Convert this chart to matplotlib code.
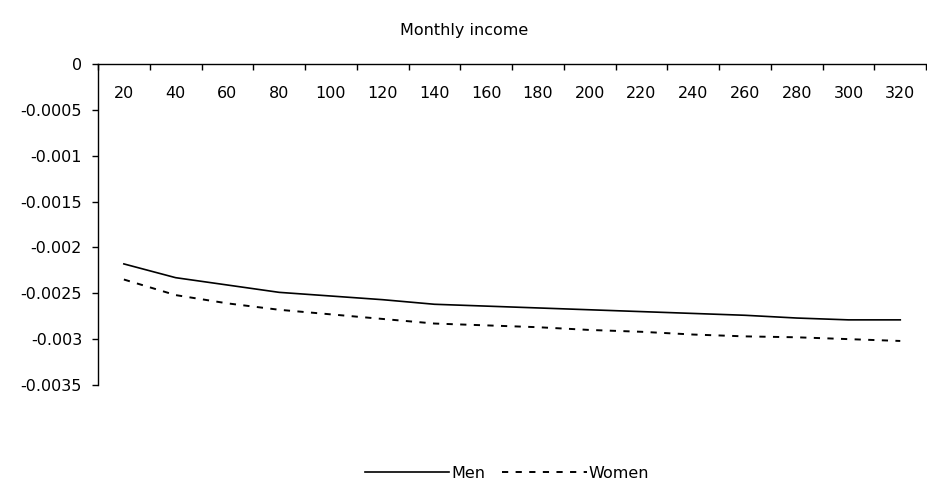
import matplotlib
matplotlib.use("Agg")
import matplotlib.pyplot as plt
import numpy as np

plt.rcParams['font.family'] = ['DejaVu Sans']

categories = ["20", "40", "60", "80", "100", "120", "140", "160", "180", "200",
              "220", "240", "260", "280", "300", "320"]
men = [-0.00218, -0.00233, -0.00241, -0.00249, -0.00253, -0.00257, -0.00262, -0.00264,
       -0.00266, -0.00268, -0.00270, -0.00272, -0.00274, -0.00277, -0.00279, -0.00279]
women = [-0.00235, -0.00252, -0.00261, -0.00268, -0.00273, -0.00278, -0.00283, -0.00285,
         -0.00287, -0.00290, -0.00292, -0.00295, -0.00297, -0.00298, -0.00300, -0.00302]
yticks = [0, -0.0005, -0.001, -0.0015, -0.002, -0.0025, -0.003, -0.0035]
ytick_labels = ["0", "-0.0005", "-0.001", "-0.0015", "-0.002", "-0.0025", "-0.003", "-0.0035"]

FS = 11.5

fig = plt.figure(figsize=(9.28, 4.92), dpi=100)
ax = fig.add_axes([0.1056, 0.2175, 0.8924, 0.6525])

x = np.arange(len(categories))
l1, = ax.plot(x, men, color='black', lw=1.2, label='Men')
l2, = ax.plot(x, women, color='black', lw=1.4, dashes=(3.2, 3.8), label='Women')

ax.set_xlim(-0.5, len(categories) - 0.5)
ax.set_ylim(-0.0035, 0)

for s in ['right', 'bottom']:
    ax.spines[s].set_visible(False)
ax.spines['top'].set_linewidth(1.0)
ax.spines['left'].set_linewidth(1.0)

ax.set_yticks(yticks)
ax.set_yticklabels(ytick_labels)
ax.tick_params(axis='y', direction='out', length=4.5, width=1.0, pad=7, labelsize=FS)

ax.xaxis.set_ticks_position('top')
ax.set_xticks(x)
ax.set_xticklabels(categories)
ax.set_xticks(np.arange(-0.5, len(categories)), minor=True)
ax.tick_params(axis='x', which='major', top=True, bottom=False, labeltop=True,
               labelbottom=False, length=0, pad=-27, labelsize=FS)
ax.tick_params(axis='x', which='minor', top=True, bottom=False, direction='in',
               length=4.5, width=1.0)

fig.text(0.5, 1 - 30 / 492, "Monthly income", ha='center', va='center', fontsize=FS)

fig.legend(handles=[l1, l2], loc='center', bbox_to_anchor=(507 / 928, 1 - 473 / 492),
           ncol=2, frameon=False, fontsize=FS, handlelength=5.3, handletextpad=0.12,
           columnspacing=1.06)

fig.savefig("out.png", dpi=100)
